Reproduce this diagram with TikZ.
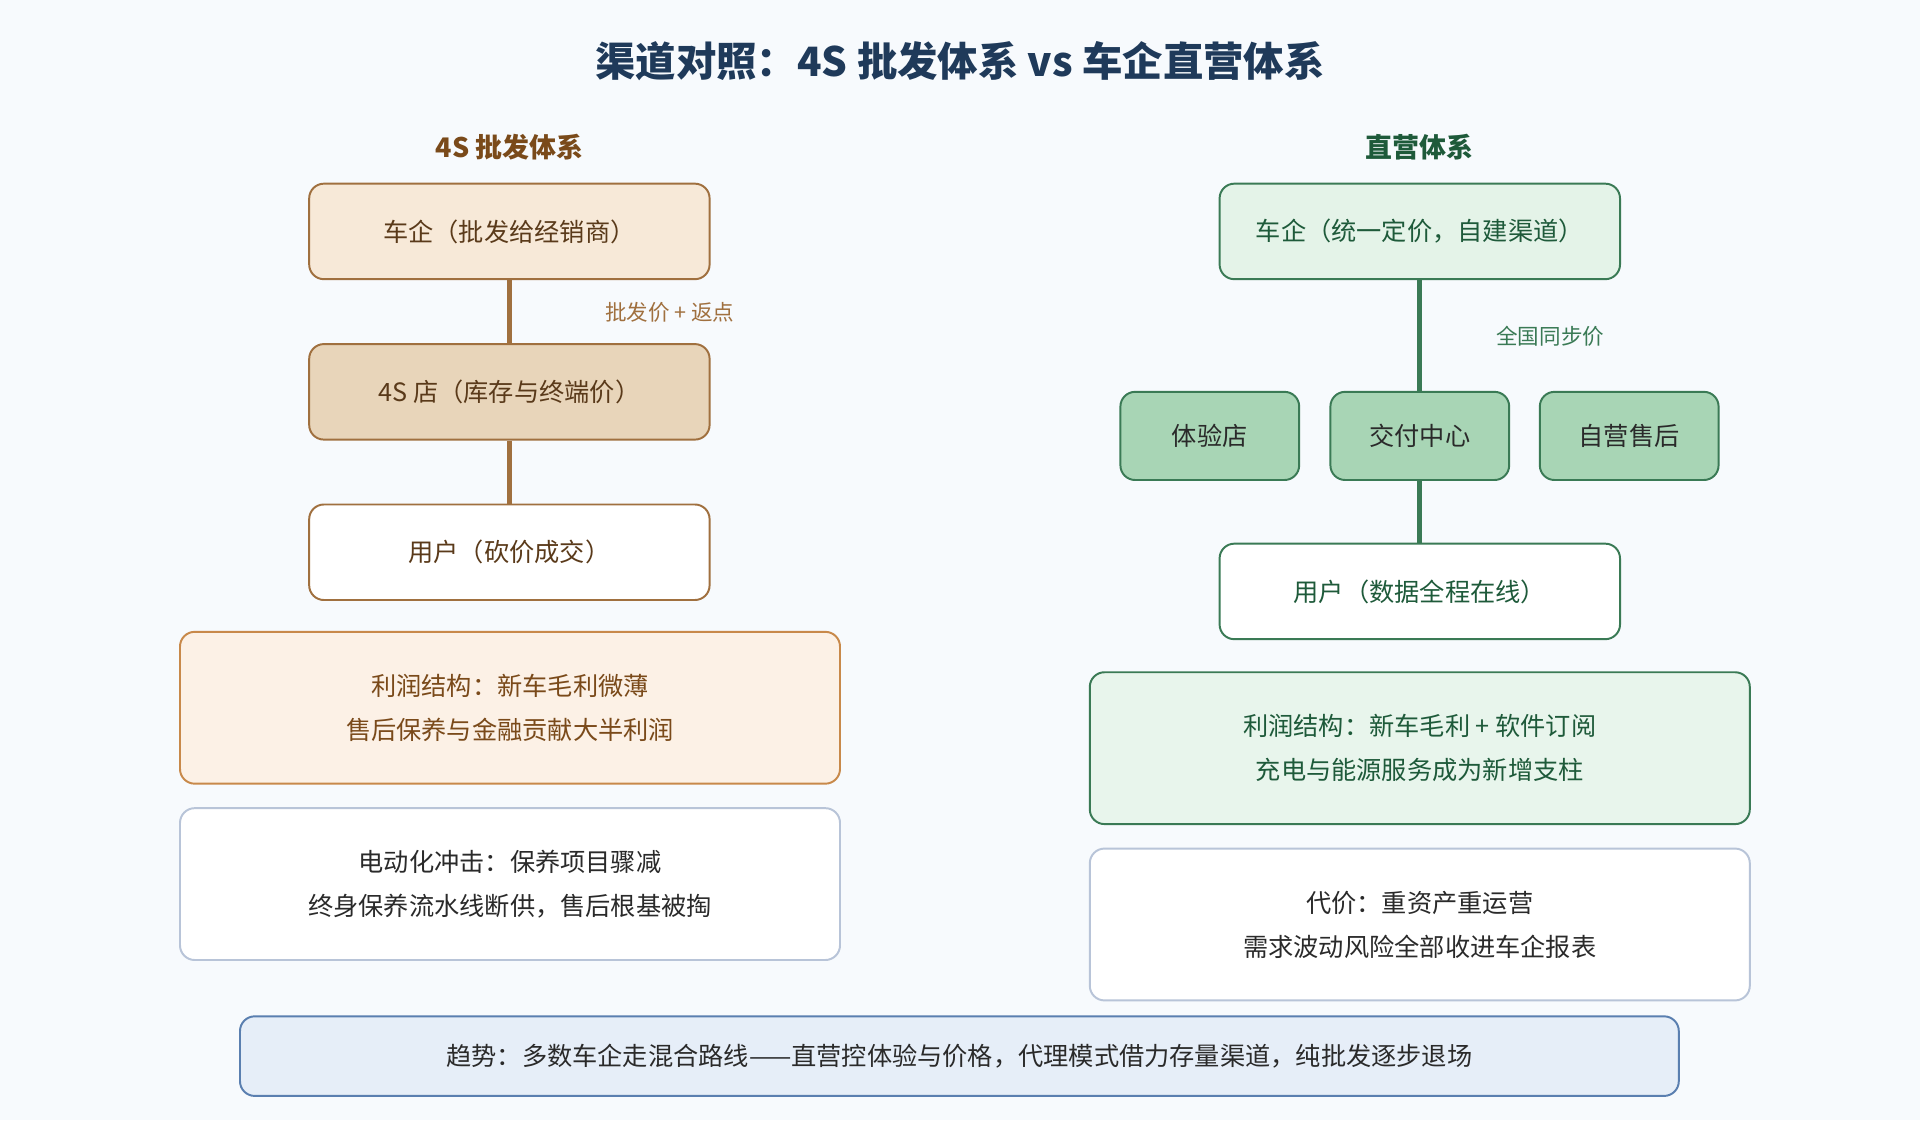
\documentclass[tikz,border=0pt]{standalone}
\usepackage{fontspec}
\setmainfont{Noto Sans CJK SC}
\usetikzlibrary{positioning}
\definecolor{bgc}{HTML}{F7FAFD}
\definecolor{navy}{HTML}{1F3A5A}
\definecolor{brownd}{HTML}{7A4A1A}
\definecolor{brownl}{HTML}{A0703F}
\definecolor{brownt}{HTML}{5A3A1A}
\definecolor{peach}{HTML}{F7E9D8}
\definecolor{tan}{HTML}{E8D5BA}
\definecolor{cream}{HTML}{FCF1E6}
\definecolor{orangeb}{HTML}{C8894A}
\definecolor{greend}{HTML}{1E5A3A}
\definecolor{greenl}{HTML}{3A7A55}
\definecolor{mint}{HTML}{E4F3E8}
\definecolor{mintd}{HTML}{A8D5B5}
\definecolor{mintl}{HTML}{E8F5EC}
\definecolor{grayl}{HTML}{B8C4D8}
\definecolor{skyf}{HTML}{E6EEF8}
\definecolor{skyb}{HTML}{5A7FB0}
\definecolor{textc}{HTML}{2A2A2A}
\tikzset{
  box/.style={draw, rounded corners=6pt, line width=0.8pt, align=center,
    minimum width=163.5pt, minimum height=39pt, font=\fontsize{10.3}{12}\selectfont},
  wbox/.style={box, minimum width=269.5pt, minimum height=62pt,
    font=\fontsize{10.3}{18}\selectfont},
  sbox/.style={box, minimum width=73pt, minimum height=36pt},
  link/.style={line width=2pt},
  lbl/.style={font=\fontsize{8.8}{10}\selectfont}
}
\begin{document}
\begin{tikzpicture}[x=0.5pt,y=-0.5pt]
\useasboundingbox[fill=bgc] (0,0) rectangle (1568,915);
\node[font=\bfseries\fontsize{16.5}{18}\selectfont, text=navy] (title) at (784,50) {渠道对照：4S 批发体系 vs 车企直营体系};
% left column
\node[font=\bfseries\fontsize{11}{13}\selectfont, text=brownd] (lhead) at (416,120) {4S 批发体系};
\node[box, draw=brownl, fill=peach, text=brownt] (lcar) at (416,189) {车企（批发给经销商）};
\node[box, draw=brownl, fill=tan, text=brownt] (lshop) at (416,320) {4S 店（库存与终端价）};
\node[box, draw=brownl, fill=white, text=brownt] (luser) at (416,451) {用户（砍价成交）};
\draw[link, brownl] (lcar) -- (lshop);
\draw[link, brownl] (lshop) -- (luser);
\node[lbl, text=brownl] (lprice) at (547,255) {批发价 + 返点};
\node[wbox, draw=orangeb, fill=cream, text=brownd] (lprofit) at (416.5,578) {利润结构：新车毛利微薄\\售后保养与金融贡献大半利润};
\node[wbox, draw=grayl, fill=white, text=textc] (limpact) at (416.5,722) {电动化冲击：保养项目骤减\\终身保养流水线断供，售后根基被掏};
% right column
\node[font=\bfseries\fontsize{11}{13}\selectfont, text=greend] (rhead) at (1159,120) {直营体系};
\node[box, draw=greenl, fill=mint, text=greend] (rcar) at (1159.5,189) {车企（统一定价，自建渠道）};
\node[sbox, draw=greenl, fill=mintd, text=textc] (rexp) at (988,356) {体验店};
\node[sbox, draw=greenl, fill=mintd, text=textc] (rdel) at (1159.5,356) {交付中心};
\node[sbox, draw=greenl, fill=mintd, text=textc] (rsvc) at (1330.5,356) {自营售后};
\node[box, draw=greenl, fill=white, text=greend] (ruser) at (1159.5,483) {用户（数据全程在线）};
\draw[link, greenl] (rcar) -- (rdel);
\draw[link, greenl] (rdel) -- (ruser);
\node[lbl, text=greenl] (rprice) at (1266,275) {全国同步价};
\node[wbox, draw=greenl, fill=mintl, text=greend] (rprofit) at (1159.5,611) {利润结构：新车毛利 + 软件订阅\\充电与能源服务成为新增支柱};
\node[wbox, draw=grayl, fill=white, text=textc] (rcost) at (1159.5,755) {代价：重资产重运营\\需求波动风险全部收进车企报表};
% bottom
\node[box, draw=skyb, fill=skyf, text=textc, minimum width=587.5pt, minimum height=32.5pt] (trend) at (783.5,862.5) {趋势：多数车企走混合路线——直营控体验与价格，代理模式借力存量渠道，纯批发逐步退场};
\end{tikzpicture}
\end{document}
